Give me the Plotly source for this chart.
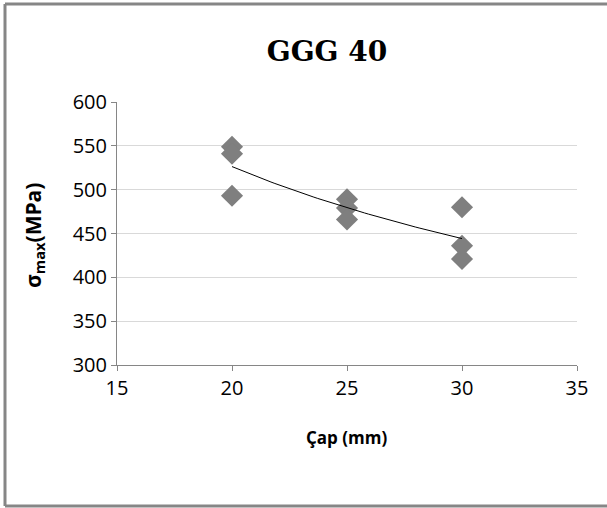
import numpy as np
import plotly.graph_objects as go

# Data
diameter_mm = [20, 20, 20, 25, 25, 25, 30, 30, 30]
sigma_max_mpa = [549, 541, 493, 489, 479, 466, 480, 436, 421]
x_ticks = [15, 20, 25, 30, 35]
y_ticks = [300, 350, 400, 450, 500, 550, 600]

# Power trendline (Excel-style), fitted from the data
xa = np.array(diameter_mm, dtype=float)
ya = np.array(sigma_max_mpa, dtype=float)
b, ln_a = np.polyfit(np.log(xa), np.log(ya), 1)
x_fit = np.linspace(xa.min(), xa.max(), 60)
y_fit = np.exp(ln_a) * x_fit ** b

fig = go.Figure()
fig.add_trace(go.Scatter(
    x=diameter_mm, y=sigma_max_mpa, mode="markers",
    marker=dict(symbol="diamond", size=17, color="#7f7f7f"),
    showlegend=False, hoverinfo="x+y"))
fig.add_trace(go.Scatter(
    x=x_fit, y=y_fit, mode="lines",
    line=dict(color="black", width=1),
    showlegend=False, hoverinfo="skip"))

L, R, T, B = 117, 30, 102, 143
W, H = 607, 508
pw, ph = W - L - R, H - T - B

def px_to_paper_x(px):
    return (px - L) / pw

def px_to_paper_y(py):
    return (H - B - py) / ph

# Outer chart border (left, top, bottom edges visible in the reference)
bx0, bx1 = px_to_paper_x(5), px_to_paper_x(W)
by0, by1 = px_to_paper_y(506), px_to_paper_y(4)
border = dict(color="#868686", width=3)
fig.add_shape(type="line", xref="paper", yref="paper", x0=bx0, x1=bx0, y0=by0, y1=by1, line=border, layer="below")
fig.add_shape(type="line", xref="paper", yref="paper", x0=bx0, x1=bx1, y0=by1, y1=by1, line=border, layer="below")
fig.add_shape(type="line", xref="paper", yref="paper", x0=bx0, x1=bx1, y0=by0, y1=by0, line=border, layer="below")

fig.add_annotation(text="<b>Çap (mm)</b>", xref="paper", yref="paper",
                   x=px_to_paper_x(346), y=px_to_paper_y(437),
                   xanchor="center", yanchor="middle", showarrow=False,
                   font=dict(family="Open Sans", size=17, color="black"))
fig.add_annotation(text="<b>σ<sub>max</sub>(MPa)</b>", xref="paper", yref="paper",
                   x=px_to_paper_x(34), y=px_to_paper_y(236), textangle=-90,
                   xanchor="center", yanchor="middle", showarrow=False,
                   font=dict(family="Open Sans", size=21, color="black"))

fig.update_layout(
    width=W, height=H,
    margin=dict(l=L, r=R, t=T, b=B),
    paper_bgcolor="white", plot_bgcolor="white",
    title=dict(text="<b>GGG 40</b>", x=(327 - L) / pw, xref="paper", xanchor="center",
               y=1 - 51 / H, yanchor="middle",
               font=dict(family="DejaVu Serif", size=28, color="black")),
    xaxis=dict(range=[15, 35], tickvals=x_ticks, showgrid=False, automargin=False,
               showline=True, linecolor="#868686", linewidth=1,
               ticks="outside", ticklen=5, tickcolor="#868686",
               tickfont=dict(family="Open Sans", size=20, color="black"),
               zeroline=False),
    yaxis=dict(range=[300, 600], tickvals=y_ticks, showgrid=True, automargin=False,
               gridcolor="#d9d9d9", gridwidth=1,
               showline=True, linecolor="#868686", linewidth=1,
               ticks="outside", ticklen=5, tickcolor="#868686",
               tickfont=dict(family="Open Sans", size=20, color="black"),
               zeroline=False),
)

fig.write_html("out.html", config={"displayModeBar": False},
               post_script="document.body.style.margin='0';document.body.style.overflow='hidden';")
